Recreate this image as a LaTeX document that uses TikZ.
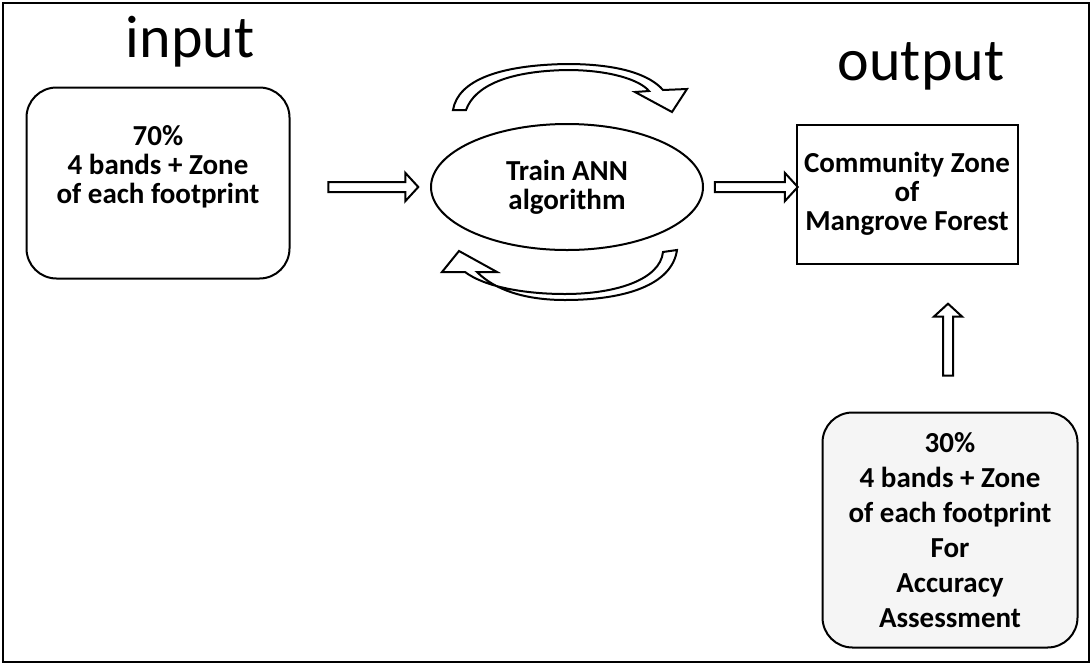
\documentclass[tikz,border=0pt]{standalone}
\usepackage{fontspec}
\setmainfont{Carlito}
\usetikzlibrary{shapes.geometric,shapes.arrows}
\begin{document}
\begin{tikzpicture}[x=1pt,y=-1pt,
  lw/.style={line width=2pt},
  boxtxt/.style={font=\fontsize{29}{29}\selectfont\bfseries, align=center},
  lbl/.style={font=\fontsize{60}{66}\selectfont},
  hollow/.style={single arrow, draw, lw, fill=white, minimum width=26, single arrow head extend=9, inner sep=4, single arrow tip angle=95, anchor=center},
  curvarrow/.style={draw, lw, fill=white, line join=miter}
]
\useasboundingbox (0,0) rectangle (1092,665);
\draw[lw] (3,3) rectangle (1089,662);

\node[lbl] (inlbl) at (190,42) {input};
\node[lbl] (outlbl) at (921,66) {output};

\node[draw, lw, rounded corners=30, minimum width=263, minimum height=191] (inbox) at (158,183) {};
\node[boxtxt] (intxt) at (158,167) {70\%\\4 bands + Zone\\of each footprint};
\node[draw, lw, ellipse, minimum width=272, minimum height=126, inner sep=0, boxtxt] (ann) at (567,187)
  {Train ANN\\algorithm};
\node[draw, lw, minimum width=221, minimum height=139, boxtxt] (outbox) at (907,194)
  {Community Zone\\of\\Mangrove Forest};
\node[draw, lw, rounded corners=30, fill=black!4, minimum width=255, minimum height=235,
  font=\fontsize{29}{35}\selectfont\bfseries, align=center] (accbox) at (950,530)
  {30\%\\4 bands + Zone\\of each footprint\\For\\Accuracy\\Assessment};

\node[hollow, minimum height=90] (a1) at (371,187) {};
\node[hollow, minimum height=83] (a2) at (754,187) {};
\node[hollow, minimum height=72, shape border rotate=90] (a3) at (948,342) {};

% top curved arrow
\draw[curvarrow] (453,110) .. controls (458,80) and (500,65) .. (567,64)
  .. controls (620,64) and (650,75) .. (663,90) -- (687,89) -- (672,112) -- (635,92) -- (649,91)
  .. controls (640,80) and (610,70) .. (567,70)
  .. controls (510,71) and (475,85) .. (466,110) -- cycle;
% bottom curved arrow
\draw[curvarrow] (677,250) .. controls (672,285) and (625,300) .. (565,300)
  .. controls (525,300) and (495,290) .. (477,272) -- (497,272) -- (459,251) -- (442,272) -- (465,272)
  .. controls (485,287) and (525,294) .. (565,294)
  .. controls (615,294) and (660,280) .. (663,252) -- cycle;
\end{tikzpicture}
\end{document}
